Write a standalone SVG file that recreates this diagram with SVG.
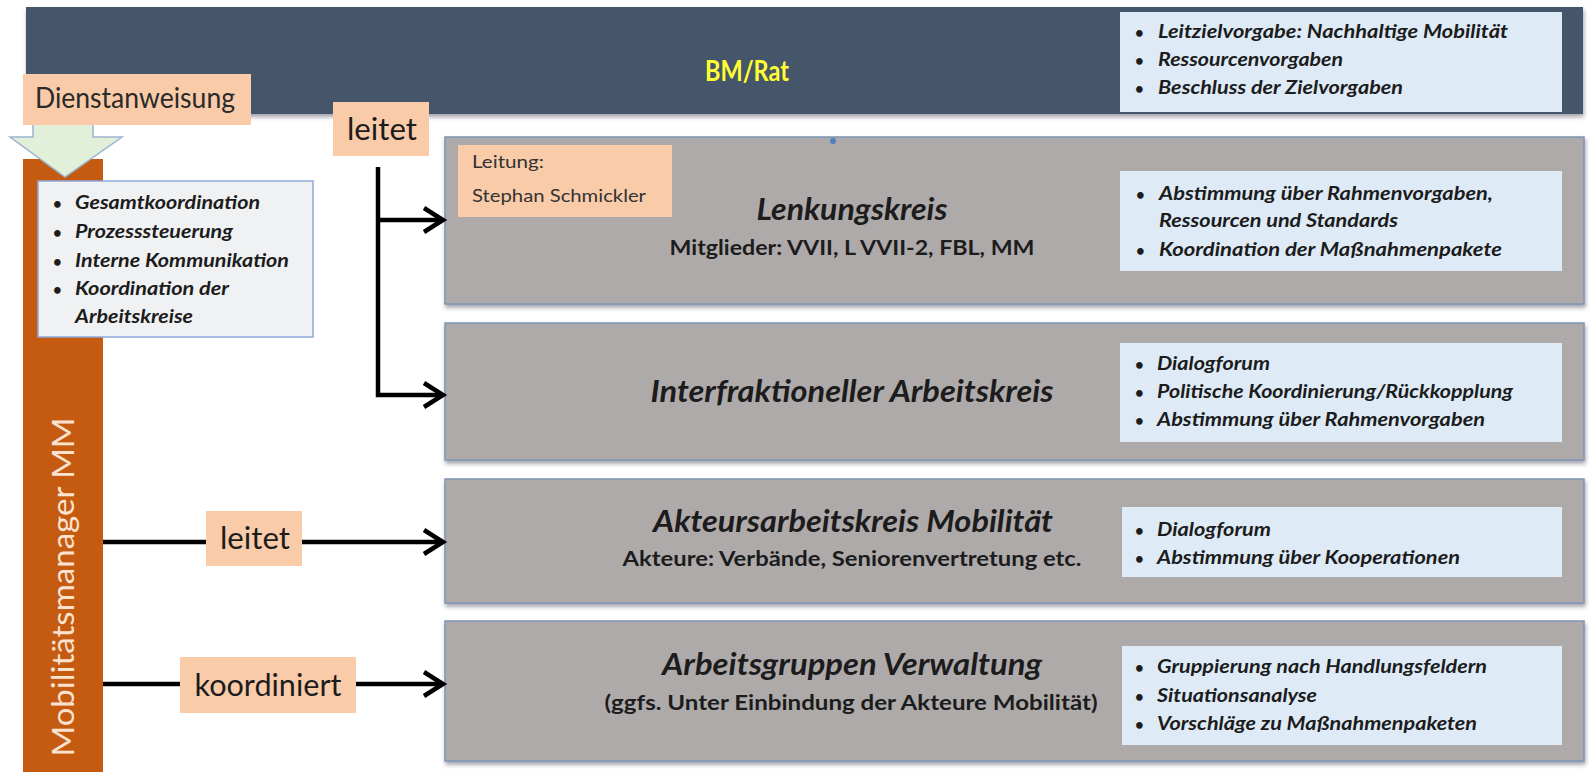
<svg xmlns="http://www.w3.org/2000/svg" width="1589" height="772" viewBox="0 0 1589 772">
<style>
  .t { font-family: Lato, "Liberation Sans", sans-serif; fill: #1c1c1c; }
  .b { font-weight: bold; }
  .title { font-size: 30px; font-weight: bold; font-style: italic; text-anchor: middle; }
  .sub { font-size: 21.5px; font-weight: bold; text-anchor: middle; }
  .bl { font-size: 18.5px; font-weight: bold; font-style: italic; }
  .dot { font-size: 15px; font-weight: bold; }
  .lbl { font-size: 31px; text-anchor: middle; }
  .peach { fill: #F9CBA9; }
  .grey { fill: #AEAAAA; stroke: #7E95B4; stroke-width: 1.5; }
  .lblue { fill: #DEEBF7; }
  .conn { stroke: #000; stroke-width: 4.5; fill: none; }
</style>
<defs>
  <filter id="sh" x="-5%" y="-10%" width="110%" height="125%">
    <feDropShadow dx="1" dy="3" stdDeviation="2" flood-color="#556" flood-opacity="0.55"/>
  </filter>
  <marker id="arr" markerUnits="userSpaceOnUse" markerWidth="30" markerHeight="34" refX="22" refY="14" orient="auto" overflow="visible">
    <path d="M3,2 L22,14 L3,26" fill="none" stroke="#000" stroke-width="4.5" stroke-linejoin="miter"/>
  </marker>
</defs>
<rect width="1589" height="772" fill="#ffffff"/>

<g id="header">
  <rect x="26" y="7" width="1557" height="107" fill="#44546A" filter="url(#sh)"/>
  <text class="t b" x="747" y="81" font-size="29" text-anchor="middle" textLength="84" lengthAdjust="spacingAndGlyphs" style="fill:#FFFF33">BM/Rat</text>
  <rect class="lblue" x="1120" y="12" width="442" height="100"/>
  <g class="t">
    <text class="dot" x="1135" y="38">•</text><text class="bl" x="1158" y="38" textLength="350" lengthAdjust="spacingAndGlyphs">Leitzielvorgabe: Nachhaltige Mobilität</text>
    <text class="dot" x="1135" y="66">•</text><text class="bl" x="1158" y="66" textLength="185" lengthAdjust="spacingAndGlyphs">Ressourcenvorgaben</text>
    <text class="dot" x="1135" y="94">•</text><text class="bl" x="1158" y="94" textLength="245" lengthAdjust="spacingAndGlyphs">Beschluss der Zielvorgaben</text>
  </g>
</g>

<g id="mm-bar">
  <rect x="23" y="159" width="80" height="613" fill="#C55A11"/>
  <text class="t" transform="translate(74,587) rotate(-90)" font-size="31" text-anchor="middle" textLength="339" lengthAdjust="spacingAndGlyphs" style="fill:#FBE2CF">Mobilitätsmanager MM</text>
</g>

<g id="dienstanweisung-arrow">
  <polygon points="33,118 93,118 93,137 122,137 65,177 10,137 33,137" fill="#E2F0D9" stroke="#9DB3CF" stroke-width="1.5"/>
</g>

<g id="dienstanweisung">
  <rect class="peach" x="23" y="74" width="228" height="51"/>
  <text class="t" x="35" y="108" font-size="28" textLength="200" lengthAdjust="spacingAndGlyphs" style="fill:#2a2a2a">Dienstanweisung</text>
</g>

<g id="mm-tasks">
  <rect x="38" y="181" width="275" height="156" fill="#F0F1F3" stroke="#8EA9DB" stroke-width="1.5"/>
  <g class="t">
    <text class="dot" x="53" y="209">•</text><text class="bl" x="75" y="209" textLength="185" lengthAdjust="spacingAndGlyphs">Gesamtkoordination</text>
    <text class="dot" x="53" y="238">•</text><text class="bl" x="75" y="238" textLength="158" lengthAdjust="spacingAndGlyphs">Prozesssteuerung</text>
    <text class="dot" x="53" y="267">•</text><text class="bl" x="75" y="267" textLength="214" lengthAdjust="spacingAndGlyphs">Interne Kommunikation</text>
    <text class="dot" x="53" y="295">•</text><text class="bl" x="75" y="295" textLength="154" lengthAdjust="spacingAndGlyphs">Koordination der</text>
    <text class="bl" x="75" y="323" textLength="118" lengthAdjust="spacingAndGlyphs">Arbeitskreise</text>
  </g>
</g>

<g id="lenkungskreis">
  <rect class="grey" x="445" y="137" width="1139" height="167" filter="url(#sh)"/>
  <circle cx="833" cy="141" r="3" fill="#4F81BD"/>
  <rect class="peach" x="458" y="145" width="214" height="72"/>
  <text class="t" x="472" y="168" font-size="17.5" textLength="72" lengthAdjust="spacingAndGlyphs" style="fill:#333">Leitung:</text>
  <text class="t" x="472" y="202" font-size="17.5" textLength="174" lengthAdjust="spacingAndGlyphs" style="fill:#333">Stephan Schmickler</text>
  <text class="t title" x="852" y="220" textLength="191" lengthAdjust="spacingAndGlyphs">Lenkungskreis</text>
  <text class="t sub" x="852" y="255" textLength="365" lengthAdjust="spacingAndGlyphs">Mitglieder: VVII, L VVII-2, FBL, MM</text>
  <rect class="lblue" x="1120" y="171" width="442" height="100"/>
  <g class="t">
    <text class="dot" x="1136" y="200">•</text><text class="bl" x="1159" y="200" textLength="334" lengthAdjust="spacingAndGlyphs">Abstimmung über Rahmenvorgaben,</text>
    <text class="bl" x="1159" y="227" textLength="239" lengthAdjust="spacingAndGlyphs">Ressourcen und Standards</text>
    <text class="dot" x="1136" y="256">•</text><text class="bl" x="1159" y="256" textLength="343" lengthAdjust="spacingAndGlyphs">Koordination der  Maßnahmenpakete</text>
  </g>
</g>

<g id="interfraktioneller-arbeitskreis">
  <rect class="grey" x="445" y="323" width="1139" height="137" filter="url(#sh)"/>
  <text class="t title" x="852" y="402" textLength="403" lengthAdjust="spacingAndGlyphs">Interfraktioneller Arbeitskreis</text>
  <rect class="lblue" x="1120" y="343" width="442" height="99"/>
  <g class="t">
    <text class="dot" x="1135" y="370">•</text><text class="bl" x="1157" y="370" textLength="113" lengthAdjust="spacingAndGlyphs">Dialogforum</text>
    <text class="dot" x="1135" y="398">•</text><text class="bl" x="1157" y="398" textLength="356" lengthAdjust="spacingAndGlyphs">Politische Koordinierung/Rückkopplung</text>
    <text class="dot" x="1135" y="426">•</text><text class="bl" x="1157" y="426" textLength="328" lengthAdjust="spacingAndGlyphs">Abstimmung über Rahmenvorgaben</text>
  </g>
</g>

<g id="akteursarbeitskreis">
  <rect class="grey" x="445" y="479" width="1139" height="124" filter="url(#sh)"/>
  <text class="t title" x="853" y="532" textLength="400" lengthAdjust="spacingAndGlyphs">Akteursarbeitskreis Mobilität</text>
  <text class="t sub" x="852" y="566" textLength="459" lengthAdjust="spacingAndGlyphs">Akteure: Verbände, Seniorenvertretung etc.</text>
  <rect class="lblue" x="1122" y="507" width="440" height="70"/>
  <g class="t">
    <text class="dot" x="1135" y="536">•</text><text class="bl" x="1157" y="536" textLength="114" lengthAdjust="spacingAndGlyphs">Dialogforum</text>
    <text class="dot" x="1135" y="564">•</text><text class="bl" x="1157" y="564" textLength="303" lengthAdjust="spacingAndGlyphs">Abstimmung über Kooperationen</text>
  </g>
</g>

<g id="arbeitsgruppen-verwaltung">
  <rect class="grey" x="445" y="621" width="1139" height="140" filter="url(#sh)"/>
  <text class="t title" x="852" y="675" textLength="380" lengthAdjust="spacingAndGlyphs">Arbeitsgruppen Verwaltung</text>
  <text class="t sub" x="851" y="710" textLength="493" lengthAdjust="spacingAndGlyphs">(ggfs. Unter Einbindung der Akteure Mobilität)</text>
  <rect class="lblue" x="1122" y="646" width="440" height="99"/>
  <g class="t">
    <text class="dot" x="1135" y="673">•</text><text class="bl" x="1157" y="673" textLength="330" lengthAdjust="spacingAndGlyphs">Gruppierung nach Handlungsfeldern</text>
    <text class="dot" x="1135" y="702">•</text><text class="bl" x="1157" y="702" textLength="160" lengthAdjust="spacingAndGlyphs">Situationsanalyse</text>
    <text class="dot" x="1135" y="730">•</text><text class="bl" x="1157" y="730" textLength="320" lengthAdjust="spacingAndGlyphs">Vorschläge zu Maßnahmenpaketen</text>
  </g>
</g>

<g id="connectors">
  <path class="conn" d="M378,167 L378,395 L443,395" marker-end="url(#arr)"/>
  <path class="conn" d="M378,220 L443,220" marker-end="url(#arr)"/>
  <path class="conn" d="M103,542 L443,542" marker-end="url(#arr)"/>
  <path class="conn" d="M103,684 L443,684" marker-end="url(#arr)"/>
  <g id="label-leitet-top">
    <rect class="peach" x="333" y="102" width="96" height="54"/>
    <text class="t lbl" x="382" y="140" textLength="70" lengthAdjust="spacingAndGlyphs">leitet</text>
  </g>
  <g id="label-leitet">
    <rect class="peach" x="206" y="511" width="96" height="55"/>
    <text class="t lbl" x="255" y="549" textLength="70" lengthAdjust="spacingAndGlyphs">leitet</text>
  </g>
  <g id="label-koordiniert">
    <rect class="peach" x="180" y="657" width="176" height="56"/>
    <text class="t lbl" x="268" y="696" textLength="147" lengthAdjust="spacingAndGlyphs">koordiniert</text>
  </g>
</g>
</svg>
